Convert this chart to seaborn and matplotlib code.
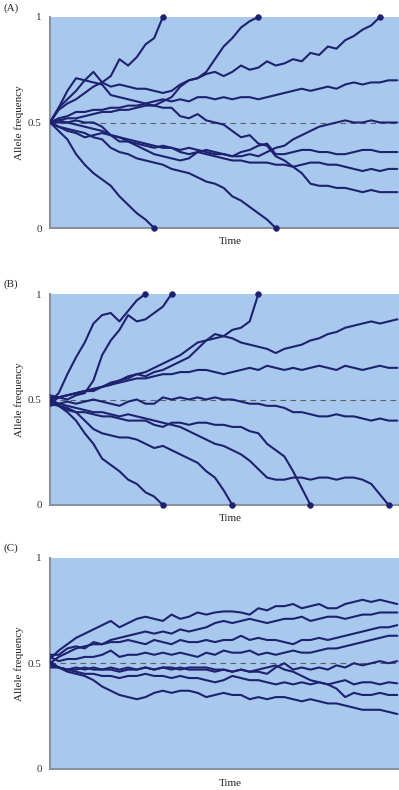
import matplotlib.pyplot as plt
import numpy as np
import pandas as pd
import seaborn as sns

# Allele frequency of each simulated population, one value per time step (0..40).
# A run stops early when the allele is fixed (1) or lost (0).
runsA = [
    [0.5, 0.56, 0.59, 0.61, 0.64, 0.67, 0.69, 0.72, 0.80, 0.77, 0.81, 0.87, 0.90, 1.0],
    [0.5, 0.57, 0.65, 0.71, 0.70, 0.74, 0.69, 0.67, 0.68, 0.67, 0.66, 0.66, 0.65, 0.64, 0.65, 0.68, 0.70, 0.71,
     0.74, 0.80, 0.86, 0.90, 0.95, 0.98, 1.0],
    [0.5, 0.51, 0.52, 0.52, 0.53, 0.54, 0.55, 0.55, 0.56, 0.56, 0.57, 0.58, 0.58, 0.60, 0.62, 0.67, 0.70, 0.71,
     0.73, 0.74, 0.72, 0.74, 0.77, 0.75, 0.76, 0.79, 0.77, 0.78, 0.80, 0.79, 0.83, 0.82, 0.86, 0.85, 0.89, 0.91,
     0.94, 0.96, 1.0],
    [0.5, 0.52, 0.53, 0.55, 0.55, 0.56, 0.56, 0.57, 0.57, 0.58, 0.58, 0.59, 0.60, 0.61, 0.60, 0.61, 0.60, 0.62,
     0.62, 0.61, 0.62, 0.61, 0.62, 0.62, 0.61, 0.62, 0.63, 0.64, 0.65, 0.66, 0.65, 0.66, 0.67, 0.66, 0.68, 0.69,
     0.68, 0.69, 0.69, 0.70, 0.70],
    [0.5, 0.57, 0.61, 0.65, 0.70, 0.69, 0.68, 0.63, 0.62, 0.61, 0.60, 0.59, 0.58, 0.57, 0.57, 0.53, 0.52, 0.54,
     0.51, 0.50, 0.49, 0.46, 0.43, 0.44, 0.40, 0.39, 0.34, 0.32, 0.29, 0.26, 0.21, 0.20, 0.20, 0.19, 0.19, 0.18,
     0.17, 0.18, 0.17, 0.17, 0.17],
    [0.5, 0.51, 0.50, 0.51, 0.50, 0.50, 0.48, 0.44, 0.41, 0.41, 0.39, 0.37, 0.35, 0.34, 0.33, 0.32, 0.33, 0.36,
     0.37, 0.36, 0.35, 0.34, 0.34, 0.35, 0.34, 0.36, 0.38, 0.39, 0.42, 0.44, 0.46, 0.48, 0.49, 0.50, 0.51, 0.50,
     0.50, 0.51, 0.50, 0.50, 0.50],
    [0.5, 0.50, 0.50, 0.49, 0.48, 0.47, 0.46, 0.44, 0.43, 0.41, 0.40, 0.39, 0.38, 0.39, 0.38, 0.37, 0.38, 0.37,
     0.36, 0.35, 0.35, 0.34, 0.36, 0.37, 0.39, 0.40, 0.35, 0.35, 0.36, 0.37, 0.37, 0.36, 0.36, 0.35, 0.35, 0.36,
     0.37, 0.37, 0.36, 0.36, 0.36],
    [0.5, 0.48, 0.46, 0.45, 0.43, 0.44, 0.45, 0.44, 0.43, 0.42, 0.41, 0.40, 0.39, 0.38, 0.38, 0.36, 0.35, 0.36,
     0.35, 0.34, 0.33, 0.32, 0.32, 0.31, 0.31, 0.31, 0.30, 0.30, 0.29, 0.30, 0.31, 0.31, 0.30, 0.30, 0.29, 0.28,
     0.27, 0.28, 0.27, 0.28, 0.28],
    [0.5, 0.48, 0.47, 0.46, 0.45, 0.43, 0.42, 0.38, 0.36, 0.35, 0.33, 0.32, 0.31, 0.30, 0.28, 0.27, 0.26, 0.24,
     0.22, 0.21, 0.19, 0.15, 0.13, 0.10, 0.07, 0.04, 0.0],
    [0.5, 0.46, 0.42, 0.35, 0.30, 0.26, 0.23, 0.20, 0.15, 0.11, 0.07, 0.04, 0.0],
]
runsB = [
    [0.49, 0.53, 0.62, 0.70, 0.77, 0.86, 0.90, 0.91, 0.87, 0.92, 0.97, 1.0],
    [0.51, 0.51, 0.50, 0.52, 0.53, 0.59, 0.71, 0.78, 0.83, 0.90, 0.87, 0.88, 0.91, 0.94, 1.0],
    [0.50, 0.51, 0.52, 0.53, 0.54, 0.55, 0.56, 0.57, 0.59, 0.60, 0.62, 0.63, 0.65, 0.67, 0.69, 0.71, 0.74, 0.77,
     0.78, 0.81, 0.80, 0.83, 0.84, 0.87, 1.0],
    [0.48, 0.51, 0.52, 0.53, 0.54, 0.55, 0.56, 0.58, 0.59, 0.61, 0.62, 0.61, 0.63, 0.64, 0.66, 0.68, 0.70, 0.74,
     0.78, 0.79, 0.80, 0.79, 0.77, 0.76, 0.75, 0.74, 0.72, 0.74, 0.75, 0.76, 0.78, 0.79, 0.81, 0.82, 0.84, 0.85,
     0.86, 0.87, 0.86, 0.87, 0.88],
    [0.52, 0.51, 0.52, 0.53, 0.54, 0.54, 0.56, 0.57, 0.58, 0.59, 0.60, 0.60, 0.61, 0.62, 0.62, 0.63, 0.63, 0.64,
     0.64, 0.63, 0.62, 0.63, 0.64, 0.65, 0.64, 0.66, 0.65, 0.64, 0.65, 0.64, 0.65, 0.66, 0.65, 0.64, 0.66, 0.65,
     0.64, 0.65, 0.66, 0.65, 0.65],
    [0.50, 0.48, 0.49, 0.48, 0.49, 0.50, 0.49, 0.48, 0.47, 0.49, 0.50, 0.48, 0.48, 0.51, 0.50, 0.51, 0.50, 0.51,
     0.50, 0.51, 0.50, 0.50, 0.49, 0.48, 0.48, 0.47, 0.47, 0.46, 0.44, 0.44, 0.43, 0.42, 0.42, 0.43, 0.42, 0.42,
     0.41, 0.40, 0.41, 0.40, 0.40],
    [0.49, 0.47, 0.45, 0.44, 0.44, 0.43, 0.42, 0.42, 0.41, 0.40, 0.40, 0.40, 0.38, 0.37, 0.39, 0.39, 0.38, 0.39,
     0.39, 0.38, 0.38, 0.37, 0.37, 0.35, 0.34, 0.29, 0.26, 0.23, 0.16, 0.08, 0.0],
    [0.47, 0.48, 0.47, 0.46, 0.45, 0.44, 0.44, 0.43, 0.42, 0.43, 0.42, 0.41, 0.40, 0.39, 0.38, 0.37, 0.35, 0.33,
     0.31, 0.29, 0.28, 0.26, 0.24, 0.21, 0.17, 0.13, 0.12, 0.12, 0.13, 0.13, 0.12, 0.13, 0.13, 0.12, 0.13, 0.13,
     0.12, 0.10, 0.05, 0.0],
    [0.48, 0.47, 0.46, 0.44, 0.40, 0.36, 0.34, 0.33, 0.32, 0.32, 0.31, 0.29, 0.27, 0.28, 0.26, 0.24, 0.22, 0.20,
     0.16, 0.13, 0.07, 0.0],
    [0.50, 0.47, 0.44, 0.40, 0.34, 0.29, 0.22, 0.19, 0.16, 0.12, 0.10, 0.06, 0.04, 0.0],
]
runsC = [
    [0.52, 0.56, 0.59, 0.62, 0.64, 0.66, 0.68, 0.70, 0.67, 0.69, 0.71, 0.72, 0.71, 0.70, 0.73, 0.71, 0.72, 0.74,
     0.73, 0.74, 0.745, 0.745, 0.74, 0.73, 0.76, 0.75, 0.77, 0.77, 0.78, 0.76, 0.77, 0.78, 0.76, 0.76, 0.78, 0.79,
     0.80, 0.79, 0.80, 0.79, 0.78],
    [0.54, 0.54, 0.57, 0.58, 0.57, 0.60, 0.59, 0.61, 0.62, 0.63, 0.64, 0.65, 0.64, 0.65, 0.64, 0.66, 0.65, 0.66,
     0.67, 0.69, 0.70, 0.69, 0.70, 0.71, 0.70, 0.69, 0.70, 0.71, 0.71, 0.72, 0.70, 0.71, 0.72, 0.72, 0.71, 0.72,
     0.73, 0.73, 0.74, 0.74, 0.74],
    [0.50, 0.53, 0.55, 0.57, 0.58, 0.59, 0.59, 0.60, 0.60, 0.61, 0.60, 0.59, 0.61, 0.60, 0.59, 0.61, 0.60, 0.60,
     0.61, 0.60, 0.61, 0.61, 0.63, 0.61, 0.62, 0.61, 0.61, 0.60, 0.59, 0.61, 0.61, 0.62, 0.61, 0.62, 0.63, 0.64,
     0.65, 0.66, 0.67, 0.67, 0.68],
    [0.53, 0.51, 0.52, 0.52, 0.53, 0.53, 0.54, 0.56, 0.53, 0.54, 0.54, 0.55, 0.54, 0.55, 0.54, 0.55, 0.54, 0.53,
     0.55, 0.54, 0.56, 0.55, 0.55, 0.56, 0.54, 0.55, 0.54, 0.55, 0.56, 0.55, 0.55, 0.56, 0.57, 0.57, 0.58, 0.59,
     0.60, 0.61, 0.62, 0.63, 0.63],
    [0.49, 0.48, 0.47, 0.48, 0.47, 0.48, 0.47, 0.48, 0.47, 0.48, 0.47, 0.48, 0.47, 0.48, 0.48, 0.47, 0.48, 0.48,
     0.48, 0.47, 0.47, 0.46, 0.47, 0.46, 0.46, 0.45, 0.48, 0.50, 0.47, 0.48, 0.47, 0.48, 0.47, 0.49, 0.48, 0.50,
     0.49, 0.50, 0.51, 0.50, 0.51],
    [0.51, 0.48, 0.47, 0.47, 0.48, 0.47, 0.47, 0.47, 0.46, 0.47, 0.47, 0.48, 0.47, 0.48, 0.47, 0.48, 0.47, 0.47,
     0.47, 0.46, 0.47, 0.46, 0.47, 0.46, 0.47, 0.48, 0.49, 0.47, 0.46, 0.44, 0.42, 0.41, 0.40, 0.41, 0.42, 0.40,
     0.41, 0.41, 0.40, 0.41, 0.405],
    [0.48, 0.48, 0.47, 0.46, 0.45, 0.45, 0.44, 0.44, 0.43, 0.44, 0.44, 0.45, 0.44, 0.44, 0.43, 0.44, 0.43, 0.43,
     0.42, 0.41, 0.42, 0.44, 0.43, 0.42, 0.42, 0.41, 0.40, 0.41, 0.40, 0.41, 0.40, 0.41, 0.40, 0.38, 0.34, 0.36,
     0.35, 0.35, 0.36, 0.35, 0.35],
    [0.50, 0.48, 0.46, 0.45, 0.44, 0.42, 0.39, 0.37, 0.35, 0.34, 0.33, 0.34, 0.36, 0.37, 0.36, 0.37, 0.37, 0.36,
     0.34, 0.35, 0.36, 0.35, 0.35, 0.33, 0.34, 0.33, 0.34, 0.34, 0.33, 0.32, 0.33, 0.32, 0.31, 0.31, 0.30, 0.29,
     0.28, 0.28, 0.28, 0.27, 0.26],
]
panelTags = ['(A)', '(B)', '(C)']
yTicks = [0, 0.5, 1]
yTickLabels = ['0', '0.5', '1']
xTicks = [33.4, 40]

navy = '#1e2170'
skyBlue = '#a9c8ee'
axisGrey = '#8c929c'

sns.set_style('white')
plt.rcParams['font.family'] = ['Liberation Serif', 'DejaVu Serif']

fig = plt.figure(figsize=(3.99, 7.90), dpi=100)
W, H = 399, 790
# axes boxes in pixels: left, top, width, height
boxes = [(50, 17, 349, 211), (50, 294, 349, 211), (50, 557.5, 349, 211.5)]
tagTops = [3, 279, 543]


def toFrame(runs):
    rows = []
    for k, run in enumerate(runs):
        for t, v in enumerate(run):
            rows.append((k, t, v))
    return pd.DataFrame(rows, columns=['run', 'Time', 'freq'])


for runs, box, tag, tagTop in zip([runsA, runsB, runsC], boxes, panelTags, tagTops):
    l, t, w, h = box
    ax = fig.add_axes([l / W, 1 - (t + h) / H, w / W, h / H])
    ax.set_facecolor(skyBlue)
    df = toFrame(runs)
    ax.axhline(0.5, color='#5a5f6a', lw=0.8, ls=(0, (5, 4)), zorder=1)
    sns.lineplot(data=df, x='Time', y='freq', units='run', estimator=None, sort=False,
                 color=navy, lw=1.5, ax=ax, zorder=3)
    ends = df.groupby('run').tail(1)
    ends = ends[(ends.freq == 0) | (ends.freq == 1)]
    if len(ends):
        sns.scatterplot(data=ends, x='Time', y='freq', color=navy, s=18, edgecolor=navy,
                        ax=ax, zorder=5, clip_on=False)
    ax.set_xlim(0, 40.2)
    ax.set_ylim(0, 1)
    for s in ['top', 'right']:
        ax.spines[s].set_visible(False)
    for s in ['left', 'bottom']:
        ax.spines[s].set_color(axisGrey)
        ax.spines[s].set_linewidth(1.5)
    ax.set_yticks(yTicks, yTickLabels)
    ax.set_xticks(xTicks, ['', ''])
    ax.tick_params(axis='y', length=0, pad=6, labelsize=8, labelcolor='#333333')
    ax.tick_params(axis='x', direction='in', length=5, width=1, color=axisGrey)
    ax.set_xlabel('Time', fontsize=8, color='#222222')
    ax.xaxis.set_label_coords(0.516, -0.045)
    ax.set_ylabel('Allele frequency', fontsize=8, color='#222222')
    ax.yaxis.set_label_coords(-0.075, 0.5)
    fig.text(3 / W, 1 - tagTop / H, tag, fontsize=8, va='top', ha='left', color='#222222')

fig.savefig('out.png', dpi=100)
